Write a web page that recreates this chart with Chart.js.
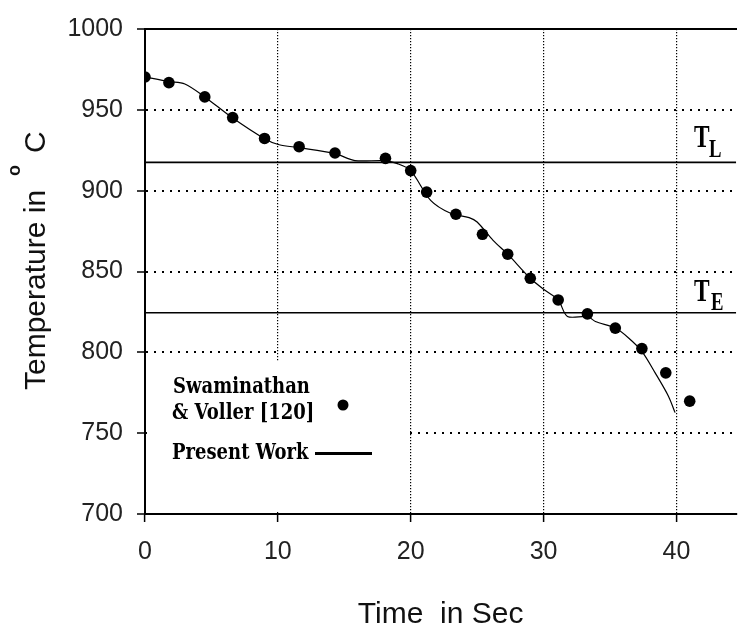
<!DOCTYPE html>
<html>
<head>
<meta charset="utf-8">
<script src="https://cdn.jsdelivr.net/npm/chart.js@4/dist/chart.umd.min.js"></script>
<style>
html,body{margin:0;padding:0;background:#fff;}
#wrap{width:742px;height:626px;position:relative;}
</style>
</head>
<body>
<div id="wrap"><canvas id="c" width="742" height="626"></canvas></div>
<script>
// Experimental data: Swaminathan & Voller [120]
const expTime = [0, 1.8, 4.5, 6.6, 9.0, 11.6, 14.3, 18.1, 20.0, 21.2, 23.4, 25.4, 27.3, 29.0, 31.1, 33.3, 35.4, 37.4, 39.2, 41.0];
const expTemp = [970.3, 966.8, 958.0, 945.2, 932.3, 927.2, 923.3, 920.0, 912.4, 899.1, 885.4, 873.0, 860.7, 845.8, 832.4, 823.8, 815.0, 802.3, 787.3, 769.8];
// Present work (simulation curve)
const simTime = [0, 1.8, 3.0, 4.5, 6.55, 8.96, 10.1, 11.6, 14.3, 15.8, 18.0, 19.0, 20.0, 21.5, 23.0, 24.4, 25.0, 26.2, 27.3, 29.0, 30.0, 31.1, 31.8, 33.3, 33.9, 35.4, 36.4, 37.4, 38.4, 39.4, 39.9];
const simTemp = [970.3, 967.5, 966.0, 958.0, 945.2, 932.3, 928.4, 926.6, 922.9, 918.6, 918.6, 916.7, 912.4, 894.0, 886.0, 883.3, 880.6, 869.3, 860.7, 845.8, 839.0, 832.4, 822.2, 822.2, 819.1, 815.0, 808.9, 800.6, 787.3, 772.9, 762.7];
// Reference temperatures
const liquidusTemp = 917.5;
const eutecticTemp = 824.5;
// Axes
const xMin = 0, xMax = 44.5, xStep = 10;
const yMin = 700, yMax = 1000, yStep = 50;
const xTitle = 'Time  in Sec';
const yTitleMain = 'Temperature in';
const legendLabels = ['Swaminathan', '& Voller [120]', 'Present Work'];

const toXY = (xs, ys) => xs.map((x, i) => ({x: x, y: ys[i]}));

function drawScaledText(ctx, text, x, y, font, sx, sy, align) {
  ctx.save();
  ctx.translate(x, y);
  ctx.scale(sx, sy);
  ctx.font = font;
  ctx.textAlign = align || 'left';
  ctx.textBaseline = 'alphabetic';
  ctx.fillText(text, 0, 0);
  ctx.restore();
}

const decorPlugin = {
  id: 'decor',
  beforeDatasetsDraw(chart) {
    const ctx = chart.ctx;
    ctx.save();
    ctx.fillStyle = '#ffffff';
    ctx.fillRect(147, 362, 260, 150);
    ctx.restore();
  },
  afterDraw(chart) {
    const ctx = chart.ctx;
    const ys = chart.scales.y;
    ctx.save();
    ctx.fillStyle = '#000';
    // legend text
    const lf = 'bold 18px "DejaVu Serif", serif';
    drawScaledText(ctx, legendLabels[0], 173, 393, lf, 1.0, 1.2);
    drawScaledText(ctx, legendLabels[1], 172, 419, lf, 1.0, 1.2);
    drawScaledText(ctx, legendLabels[2], 172, 459, lf, 1.0, 1.2);
    // legend marker
    ctx.beginPath();
    ctx.arc(343, 405, 5.5, 0, Math.PI * 2);
    ctx.fill();
    // legend line
    ctx.fillRect(315, 452, 57, 3);

    // T_L and T_E labels
    const tf = 'bold 30px "Liberation Serif", serif';
    const sf = 'bold 24px "Liberation Serif", serif';
    const yL = ys.getPixelForValue(liquidusTemp);
    const yE = ys.getPixelForValue(eutecticTemp);
    drawScaledText(ctx, 'T', 694, yL - 15, tf, 0.78, 1.05);
    drawScaledText(ctx, 'L', 709, yL - 5, sf, 0.78, 1.05);
    drawScaledText(ctx, 'T', 694, yE - 12, tf, 0.78, 1.05);
    drawScaledText(ctx, 'E', 711, yE - 3, sf, 0.78, 1.05);

    // Y axis title with superscript o
    ctx.translate(45, 390);
    ctx.rotate(-Math.PI / 2);
    ctx.font = '30px "Liberation Sans", Arial, sans-serif';
    ctx.textBaseline = 'alphabetic';
    ctx.textAlign = 'left';
    ctx.fillStyle = '#111';
    ctx.fillText(yTitleMain, 0, 0);
    ctx.font = 'bold 18px "Liberation Sans", Arial, sans-serif';
    ctx.fillText('o', 214, -25);
    ctx.font = '30px "Liberation Sans", Arial, sans-serif';
    ctx.fillText('C', 237, 0);
    ctx.restore();
  }
};

new Chart(document.getElementById('c'), {
  type: 'scatter',
  data: {
    datasets: [
      {
        label: 'Swaminathan & Voller [120]',
        type: 'scatter',
        data: toXY(expTime, expTemp),
        pointRadius: 5.8,
        pointBackgroundColor: '#000',
        pointBorderColor: '#000',
        pointBorderWidth: 0,
        order: 1
      },
      {
        label: 'Present Work',
        type: 'line',
        data: toXY(simTime, simTemp),
        borderColor: '#000',
        borderWidth: 1.2,
        pointRadius: 0,
        tension: 0.3,
        fill: false,
        order: 2
      },
      {
        label: 'TL',
        type: 'line',
        data: toXY([xMin, xMax], [liquidusTemp, liquidusTemp]),
        borderColor: '#000',
        borderWidth: 1.6,
        pointRadius: 0,
        fill: false,
        order: 3
      },
      {
        label: 'TE',
        type: 'line',
        data: toXY([xMin, xMax], [eutecticTemp, eutecticTemp]),
        borderColor: '#000',
        borderWidth: 1.6,
        pointRadius: 0,
        fill: false,
        order: 3
      }
    ]
  },
  options: {
    responsive: false,
    animation: false,
    devicePixelRatio: 1,
    layout: {padding: {top: 28, left: 0, right: 0, bottom: 0}},
    plugins: {legend: {display: false}, tooltip: {enabled: false}},
    scales: {
      x: {
        type: 'linear',
        position: 'bottom',
        min: xMin, max: xMax,
        afterFit: s => { s.height = 112; },
        ticks: {stepSize: xStep, includeBounds: false, color: '#222', padding: 15,
                callback: v => String(v),
                font: {family: '"Liberation Sans", Arial, sans-serif', size: 25}},
        grid: {color: '#000', lineWidth: 1.2, tickLength: 8, tickColor: '#000', tickWidth: 1.5},
        border: {display: true, color: '#000', width: 2, dash: [1.2, 1.8]},
        title: {display: true, text: xTitle, color: '#111', padding: {top: 0, bottom: 0},
                font: {family: '"Liberation Sans", Arial, sans-serif', size: 30, lineHeight: 0.76}}
      },
      xTop: {
        type: 'linear',
        position: 'top',
        min: xMin, max: xMax,
        afterFit: s => { s.height = 0; },
        ticks: {display: false},
        grid: {display: false, drawTicks: false},
        border: {display: true, color: '#000', width: 2}
      },
      y: {
        type: 'linear',
        position: 'left',
        min: yMin, max: yMax,
        afterFit: s => { s.width = 145; },
        ticks: {stepSize: yStep, color: '#222', padding: 14,
                callback: v => String(v),
                font: {family: '"Liberation Sans", Arial, sans-serif', size: 25}},
        grid: {color: '#000', lineWidth: 2, tickLength: 8, tickColor: '#000', tickWidth: 1.5},
        border: {display: true, color: '#000', width: 2, dash: [2, 6]}
      }
    }
  },
  plugins: [decorPlugin]
});
</script>
</body>
</html>
